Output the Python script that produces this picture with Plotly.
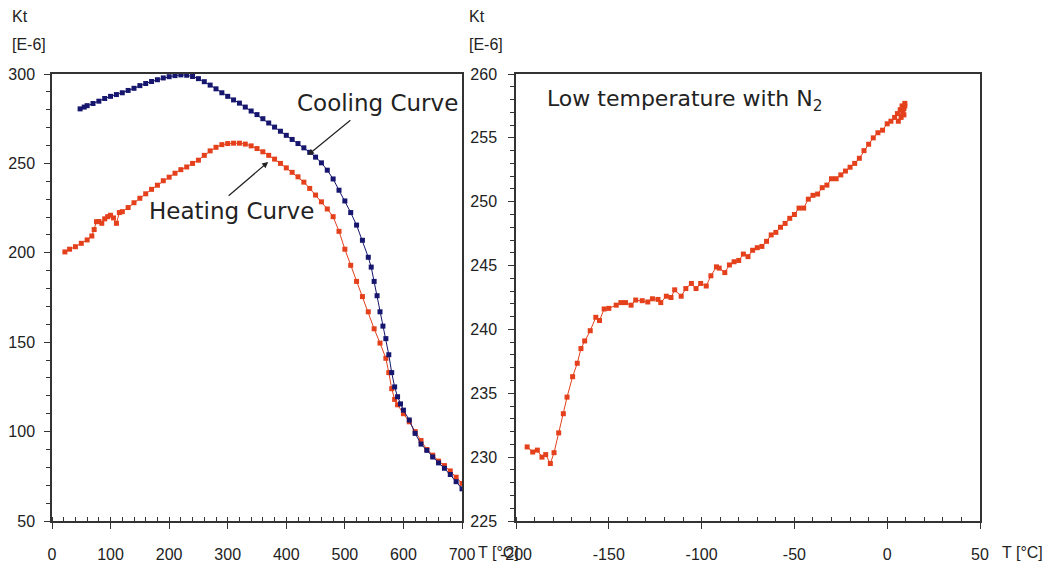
import plotly.graph_objects as go

# ---------------- data ----------------
heat_T = [22, 30, 40, 50, 60, 68, 72, 76, 80, 85, 90, 95, 100, 105, 110, 115, 120, 130, 140, 150,
          160, 170, 180, 190, 200, 210, 220, 230, 240, 250, 260, 270, 280, 290, 300, 310, 320, 330,
          340, 350, 360, 370, 380, 390, 400, 410, 420, 430, 440, 450, 460, 470, 480, 490, 500, 510,
          520, 530, 540, 550, 560, 570, 575, 580, 585, 590, 600, 610, 620, 630, 640, 650, 660, 670,
          680, 690, 700]
heat_K = [200.5, 202, 203.4, 205.3, 207.2, 209.4, 213, 217.4, 217.5, 216.5, 219, 220.2, 221, 219.5,
          216.5, 222.5, 223, 225.3, 228, 230.5, 233, 235.5, 237.8, 240.3, 242.3, 244.5, 246.5, 248, 250,
          251.8, 254.5, 257, 259, 260.5, 261.1, 261.3, 261.3, 260.8, 259.8, 258.3, 256.5, 254.5,
          252.4, 250, 247.5, 245, 242.5, 239.5, 236, 232.3, 228.5, 224.5, 220.2, 212, 202, 193, 184,
          175.5, 167, 157.5, 149.5, 141, 133, 124, 118, 115, 110, 105.5, 100, 95, 90, 86.8, 83.5,
          81, 78, 74.5, 71]

cool_T = [48, 55, 60, 70, 80, 90, 100, 110, 120, 130, 140, 150, 160, 170, 180, 190, 200, 210, 220,
          230, 240, 250, 260, 270, 280, 290, 300, 310, 320, 330, 340, 350, 360, 370, 380, 390, 400,
          410, 420, 430, 440, 450, 460, 470, 480, 490, 500, 510, 520, 530, 540, 545, 550, 555, 560,
          565, 570, 575, 580, 585, 590, 595, 600, 610, 620, 630, 640, 650, 660, 670, 680, 690, 700]
cool_K = [280.5, 281.5, 282.3, 283.5, 284.8, 286.3, 287.5, 288.5, 289.5, 290.8, 292, 293.5, 294.7,
          295.8, 296.8, 297.8, 298.5, 299.1, 299.5, 299.3, 298.6, 297.4, 295.7, 293.8, 291.7, 289.5,
          287.5, 285.5, 283.7, 281.5, 279.3, 277.3, 275, 272.6, 270.3, 268, 265.7, 263.4, 261.1,
          258.7, 256.2, 253.5, 250.3, 246.2, 241.3, 235, 229, 222.5, 215.5, 207, 197.5, 192,
          184, 176, 167, 159, 152, 143, 133, 125, 119.5, 115.5, 112, 106.5, 99, 93, 89.5, 85.8,
          82.5, 79.5, 76, 72, 68]

low_T = [-194, -191, -188.5, -186, -184, -181.5, -179.5, -177, -174.5, -172.5, -169.5, -167, -165,
         -163, -160, -157, -155, -152.5, -150, -146, -143.5, -141, -138, -135.5, -132, -129, -126.5,
         -123.5, -122, -119, -116.5, -114.5, -111, -108.5, -105.5, -103, -100.5, -97.5, -95, -92,
         -90.5, -87.5, -85, -82.5, -80, -77.5, -75, -72.5, -70, -67.5, -65, -62.5, -60, -57.5, -55,
         -52.5, -50, -47.5, -45, -42.5, -40, -37.5, -35, -32.5, -30, -27.5, -25, -22.5, -20, -17.5,
         -15, -12.5, -10, -7.5, -5, -2.5, 0, 2, 4, 5.5, 7, 8, 9, 9.5, 8.5, 7.5, 9, 6, 8, 9.5]
low_K = [230.8, 230.4, 230.55, 230.0, 230.2, 229.5, 230.35, 231.9, 233.4, 234.7, 236.3, 237.35, 238.5,
         239.1, 239.9, 240.95, 240.7, 241.6, 241.65, 241.9, 242.1, 242.1, 241.9, 242.3, 242.25, 242.15,
         242.4, 242.35, 242.1, 242.6, 242.5, 243.1, 242.6, 243.2, 243.6, 243.2, 243.6, 243.4, 244.2,
         244.9, 244.8, 244.45, 245.05, 245.3, 245.4, 245.9, 245.7, 246.2, 246.4, 246.5, 246.9, 247.4,
         247.6, 248.0, 248.3, 248.7, 249.0, 249.5, 249.5, 250.2, 250.5, 250.6, 251.1, 251.3, 251.8,
         251.8, 252.1, 252.4, 252.7, 253.0, 253.4, 254.0, 254.5, 255.0, 255.4, 255.6, 256.1, 256.3,
         256.6, 256.9, 257.2, 257.5, 257.3, 257.7, 257.0, 256.6, 256.8, 256.3, 257.2, 257.5]

left_xticks = [0, 100, 200, 300, 400, 500, 600, 700]
left_yticks = [50, 100, 150, 200, 250, 300]
right_xticks = [-200, -150, -100, -50, 0, 50]
right_yticks = [225, 230, 235, 240, 245, 250, 255, 260]

# ---------------- style ----------------
RED = "#e4401c"
BLUE = "#16166e"
AXC = "#333333"
TICKFONT = dict(family="Liberation Sans, Arial, sans-serif", size=16, color="#222222")
ANNFONT = dict(family="DejaVu Sans, Liberation Sans, Arial", size=23, color="#222222")

W, H = 1045, 567
def px(x):
    return x / W
def py(y):
    return 1 - y / H

fig = go.Figure()
fig.add_trace(go.Scatter(x=heat_T, y=heat_K, mode="lines+markers", xaxis="x", yaxis="y",
                         line=dict(color=RED, width=1), marker=dict(symbol="square", size=5, color=RED),
                         showlegend=False))
fig.add_trace(go.Scatter(x=cool_T, y=cool_K, mode="lines+markers", xaxis="x", yaxis="y",
                         line=dict(color=BLUE, width=1), marker=dict(symbol="square", size=5, color=BLUE),
                         showlegend=False))
fig.add_trace(go.Scatter(x=low_T, y=low_K, mode="lines+markers", xaxis="x2", yaxis="y2",
                         line=dict(color=RED, width=1), marker=dict(symbol="square", size=5, color=RED),
                         showlegend=False))

ydom = [py(521), py(74)]
common = dict(showline=True, linecolor=AXC, linewidth=1.5, mirror=True, showgrid=False, zeroline=False,
              ticks="outside", ticklen=6, tickwidth=1.2, tickcolor=AXC, tickfont=TICKFONT,
              automargin=False)

def labels(vals):
    return [str(v) for v in vals]

fig.update_layout(
    width=W, height=H, autosize=False,
    margin=dict(l=0, r=0, t=0, b=0),
    paper_bgcolor="white", plot_bgcolor="white",
    xaxis=dict(domain=[px(52), px(462)], range=[0, 700], tickvals=left_xticks,
               ticktext=labels(left_xticks), anchor="y",
               minor=dict(dtick=20, ticks="inside", ticklen=4, tickcolor=AXC),
               ticklabelstandoff=12, **common),
    yaxis=dict(domain=ydom, range=[50, 300], tickvals=left_yticks, ticktext=labels(left_yticks),
               anchor="x", minor=dict(dtick=10, ticks="outside", ticklen=4, tickcolor=AXC),
               ticklabelstandoff=6, **common),
    xaxis2=dict(domain=[px(516), px(980)], range=[-200, 50], tickvals=right_xticks,
                ticktext=labels(right_xticks), anchor="y2",
                minor=dict(dtick=10, ticks="inside", ticklen=4, tickcolor=AXC),
                ticklabelstandoff=12, **common),
    yaxis2=dict(domain=ydom, range=[225, 260], tickvals=right_yticks, ticktext=labels(right_yticks),
                anchor="x2", minor=dict(dtick=1, ticks="outside", ticklen=4, tickcolor=AXC),
                ticklabelstandoff=8, **common),
)

anns = [
    dict(text="Kt", x=px(10), y=py(17), xanchor="left", yanchor="middle", font=TICKFONT),
    dict(text="[E-6]", x=px(10), y=py(44), xanchor="left", yanchor="middle", font=TICKFONT),
    dict(text="Kt", x=px(467), y=py(17), xanchor="left", yanchor="middle", font=TICKFONT),
    dict(text="[E-6]", x=px(467), y=py(44), xanchor="left", yanchor="middle", font=TICKFONT),
    dict(text="T [°C]", x=px(476), y=py(552), xanchor="left", yanchor="middle", font=TICKFONT),
    dict(text="T [°C]", x=px(1000), y=py(552), xanchor="left", yanchor="middle", font=TICKFONT),
    dict(text="Cooling Curve", x=px(377), y=py(103), xanchor="center", yanchor="middle", font=ANNFONT),
    dict(text="Heating Curve", x=px(231), y=py(211), xanchor="center", yanchor="middle", font=ANNFONT),
    dict(text="Low temperature with N<sub>2</sub>", x=px(545), y=py(100), xanchor="left",
         yanchor="middle", font=dict(ANNFONT, size=22)),
]
for a in anns:
    fig.add_annotation(xref="paper", yref="paper", showarrow=False, **a)

# arrows (tip at data coords, tail in data coords)
fig.add_annotation(x=437, y=254.7, ax=512, ay=274.8, xref="x", yref="y", axref="x", ayref="y",
                   text="", showarrow=True, arrowhead=2, arrowsize=1, arrowwidth=1.2, arrowcolor="#222222")
fig.add_annotation(x=369, y=250.8, ax=299, ay=231.2, xref="x", yref="y", axref="x", ayref="y",
                   text="", showarrow=True, arrowhead=2, arrowsize=1, arrowwidth=1.2, arrowcolor="#222222")

fig.write_html("out.html", include_plotlyjs=True, config=dict(displayModeBar=False),
               post_script="document.body.style.margin='0px';")
